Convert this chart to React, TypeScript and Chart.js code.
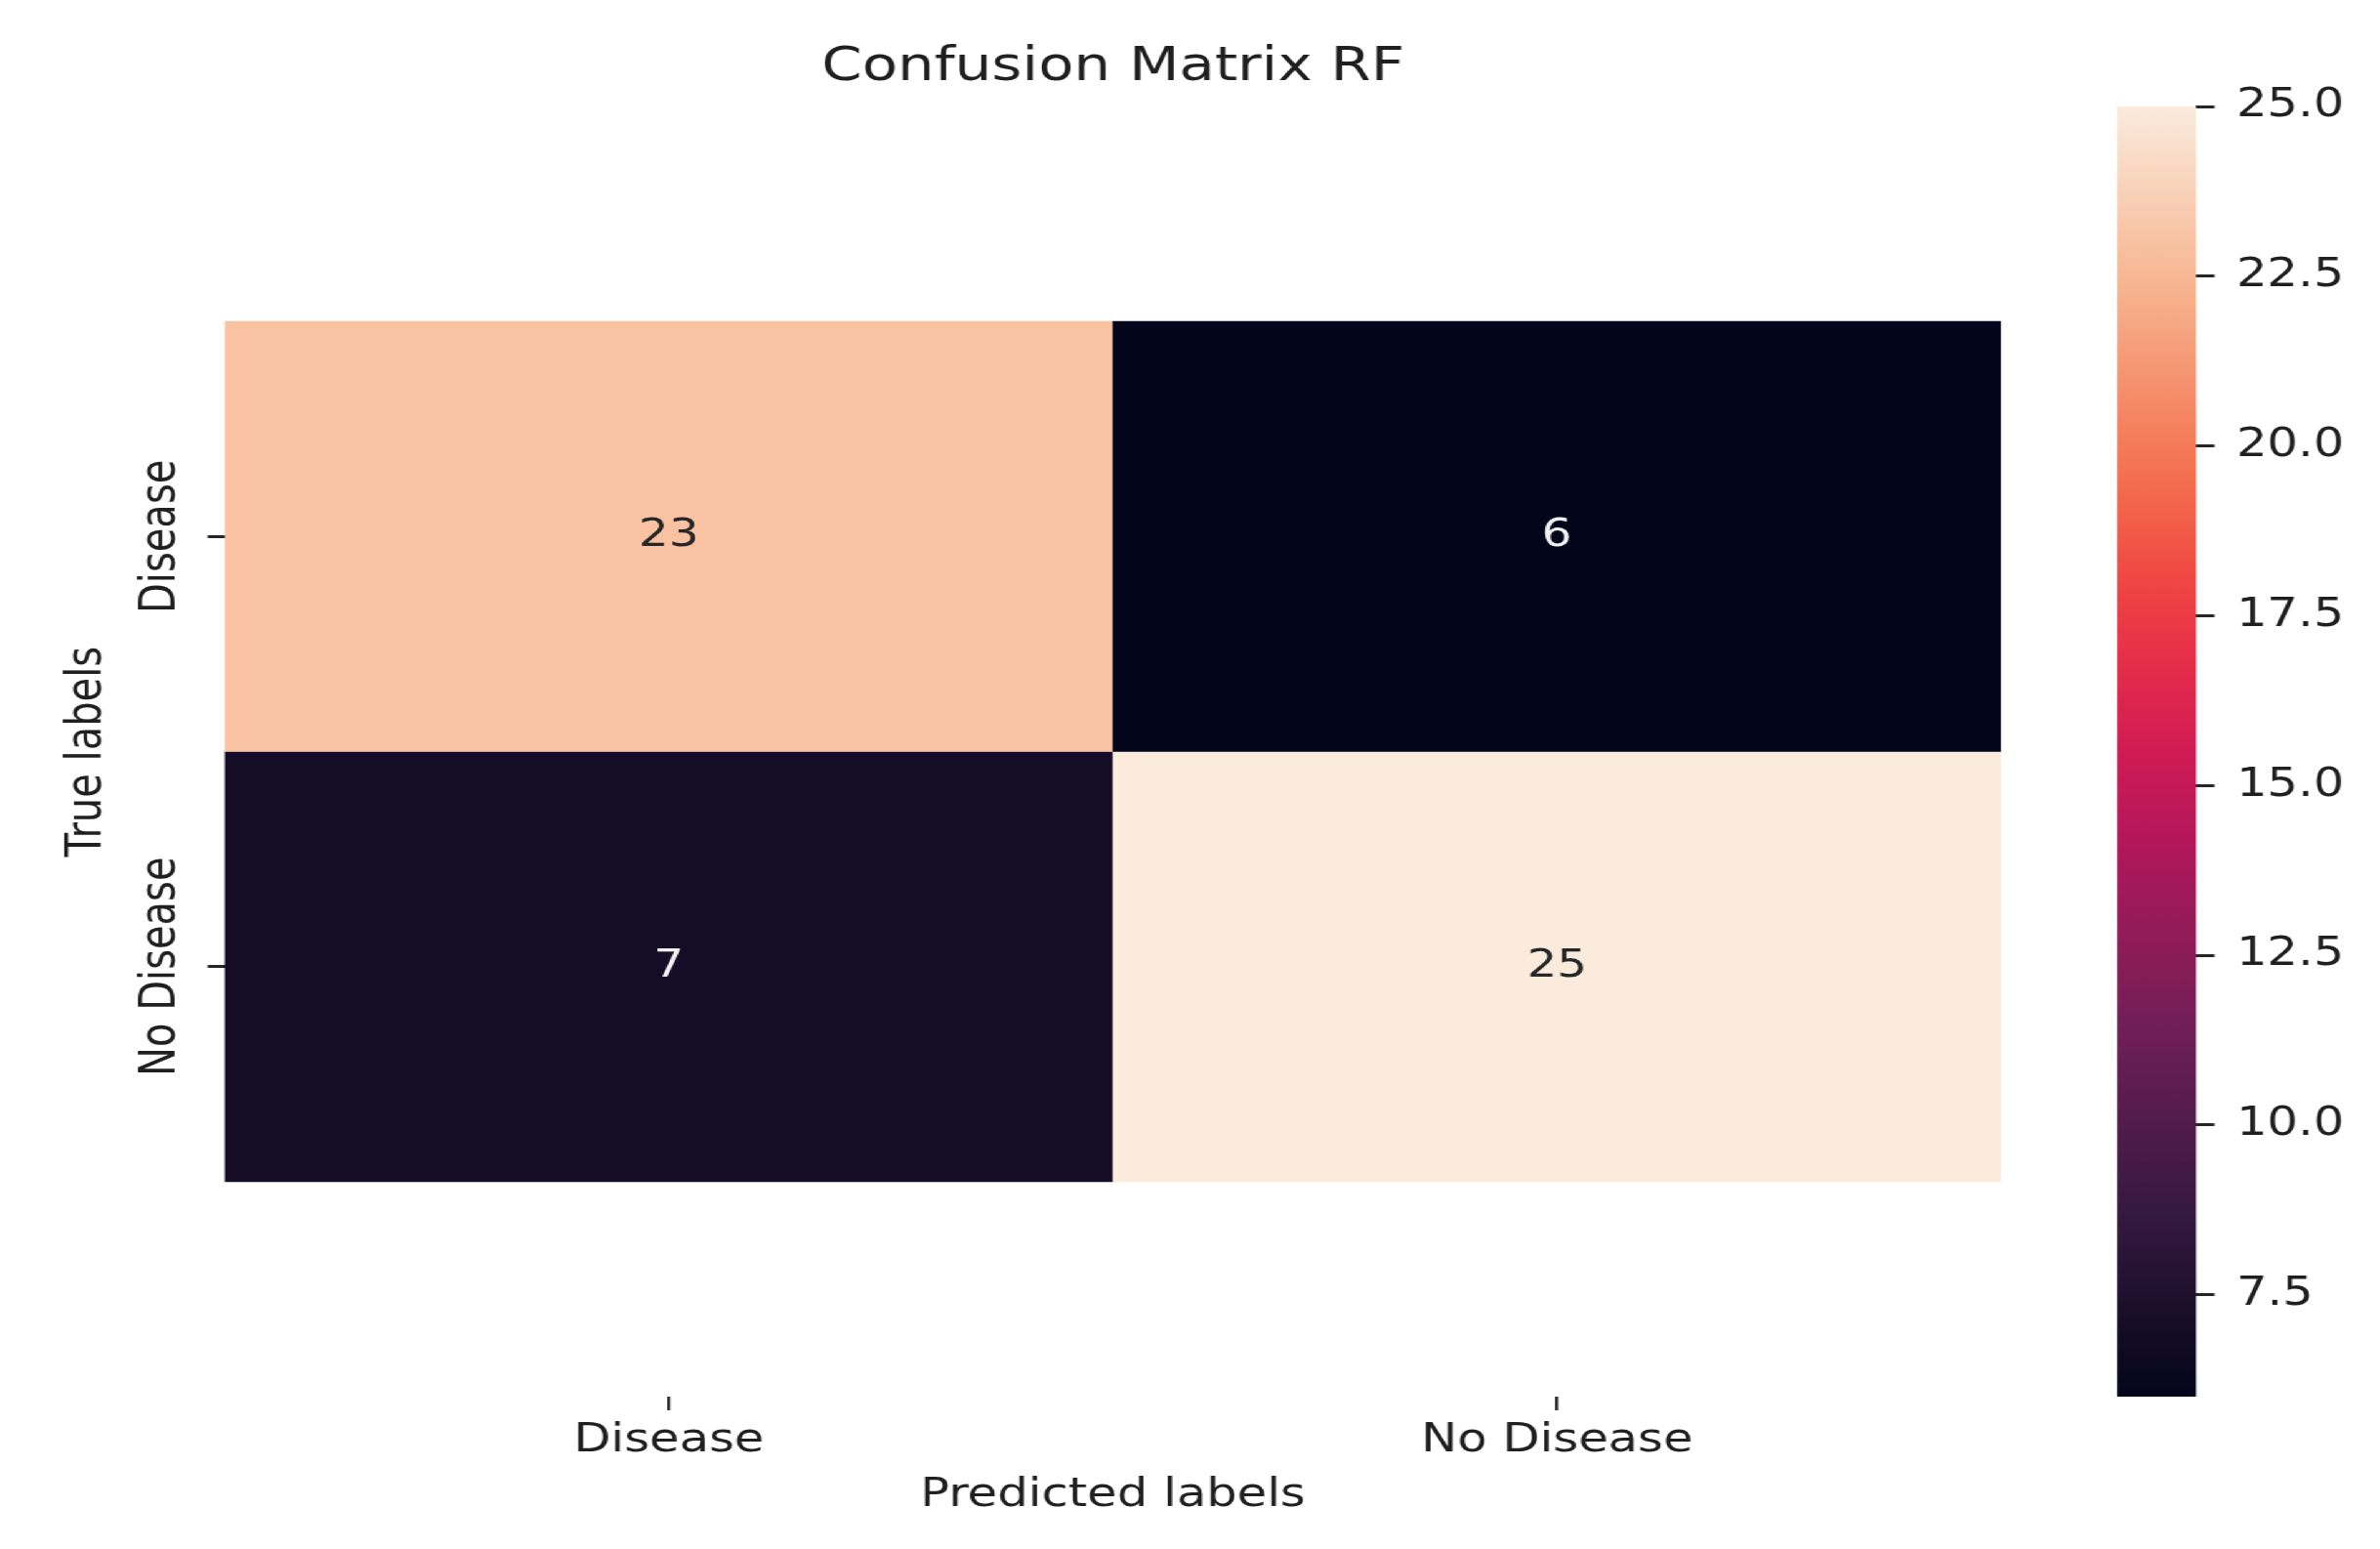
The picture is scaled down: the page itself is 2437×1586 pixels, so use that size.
import React, { useEffect, useRef } from 'react';
import { Chart, registerables } from 'chart.js';

Chart.register(...registerables);

// ---------------- data ----------------
const predictedLabels = ['Disease', 'No Disease'];
const trueLabels = ['Disease', 'No Disease'];
const rowDisease = [23, 6];
const rowNoDisease = [7, 25];
const matrixRows = [rowDisease, rowNoDisease];
const colorMin = 6;
const colorMax = 25;
const colorbarTicks = [7.5, 10, 12.5, 15, 17.5, 20, 22.5, 25];
const titleText = 'Confusion Matrix RF';
const xTitleText = 'Predicted labels';
const yTitleText = 'True labels';

// seaborn "rocket" colormap stops
const rocketStops: [number, string][] = [
  [0, '#03051A'],
  [0.143, '#35193E'],
  [0.286, '#701F57'],
  [0.429, '#B2175A'],
  [0.5, '#D01B55'],
  [0.571, '#E62E48'],
  [0.64, '#F04A43'],
  [0.714, '#F4704F'],
  [0.857, '#F7B38E'],
  [1, '#FAEBDD'],
];

// ---------------- layout ----------------
const FULL_W = 2437;
const FULL_H = 1586;
const W = 1965; // logical canvas width (the picture is stretched horizontally)
const S = FULL_W / W;
const PLOT_LEFT = 185.5;
const PLOT_RIGHT = 1652.2;
const PLOT_TOP = 109;
const PLOT_BOTTOM = 1430;
const CB_LEFT = 1748.1;
const CB_RIGHT = 1813.4;
const CB_AXIS_W = 145;
const FONT = '"DejaVu Sans", sans-serif';
const TEXT = '#1f1f1f';
const TICK = '#262626';
const TICK_LEN = 14;
const FS = 40;

function hexToRgb(h: string) {
  const n = parseInt(h.slice(1), 16);
  return [(n >> 16) & 255, (n >> 8) & 255, n & 255];
}

function colormap(v: number): string {
  const t = Math.max(0, Math.min(1, (v - colorMin) / (colorMax - colorMin)));
  for (let i = 1; i < rocketStops.length; i++) {
    const [p1, c1] = rocketStops[i];
    const [p0, c0] = rocketStops[i - 1];
    if (t <= p1) {
      const f = (t - p0) / (p1 - p0);
      const a = hexToRgb(c0);
      const b = hexToRgb(c1);
      const c = a.map((x, k) => Math.round(x + (b[k] - x) * f));
      return `rgb(${c[0]},${c[1]},${c[2]})`;
    }
  }
  return rocketStops[rocketStops.length - 1][1];
}

function textColorFor(v: number) {
  const t = (v - colorMin) / (colorMax - colorMin);
  return t > 0.5 ? '#262626' : '#f2f2f2';
}

const annotatePlugin = {
  id: 'cellAnnotations',
  afterDatasetsDraw(chart: any) {
    const ctx = chart.ctx;
    ctx.save();
    ctx.font = `39px ${FONT}`;
    ctx.textAlign = 'center';
    ctx.textBaseline = 'middle';
    chart.data.datasets.forEach((_ds: any, di: number) => {
      const meta = chart.getDatasetMeta(di);
      meta.data.forEach((el: any, i: number) => {
        const v = matrixRows[di][i];
        const p = el.getProps(['x', 'y', 'base'], true);
        ctx.fillStyle = textColorFor(v);
        ctx.fillText(String(v), p.x, (p.y + p.base) / 2);
      });
    });
    ctx.restore();
  },
};

export default function App() {
  const heatRef = useRef<HTMLCanvasElement | null>(null);
  const cbRef = useRef<HTMLCanvasElement | null>(null);

  useEffect(() => {
    if (!heatRef.current || !cbRef.current) return;

    const mctx = document.createElement('canvas').getContext('2d')!;
    mctx.font = `${FS}px ${FONT}`;
    const widest = Math.max(...trueLabels.map((l) => mctx.measureText(l).width));
    const yLabelCenter = 134;
    const yTickPad = PLOT_LEFT - TICK_LEN - yLabelCenter - widest / 2;

    const tickFont = { family: FONT, size: FS, weight: 'normal' as const };

    const heat = new Chart(heatRef.current, {
      type: 'bar',
      data: {
        labels: predictedLabels,
        datasets: matrixRows.map((row, r) => ({
          label: trueLabels[r],
          data: row.map(() => [r, r + 1]),
          backgroundColor: row.map((v) => colormap(v)),
          borderWidth: 0,
          barPercentage: 1,
          categoryPercentage: 1,
        })) as any,
      },
      options: {
        responsive: false,
        animation: false,
        layout: { padding: { left: 0, right: W - PLOT_RIGHT, top: 0, bottom: 0 } },
        plugins: {
          legend: { display: false },
          tooltip: { enabled: false },
          title: {
            display: true,
            text: titleText,
            fullSize: false,
            color: TEXT,
            font: { family: FONT, size: 48, weight: 'normal' },
            padding: { top: 40.6, bottom: 10.8 },
          },
        },
        scales: {
          x: {
            type: 'category',
            stacked: true,
            offset: true,
            grid: {
              display: true,
              drawOnChartArea: false,
              drawTicks: true,
              tickLength: TICK_LEN,
              offset: false,
              color: TICK,
              lineWidth: 2.4,
            },
            border: { display: false },
            ticks: { color: TEXT, font: tickFont, padding: 8, maxRotation: 0, minRotation: 0, autoSkip: false },
            title: {
              display: true,
              text: xTitleText,
              color: TEXT,
              font: tickFont,
              padding: { top: 0, bottom: 30 },
            },
            afterFit: (s: any) => {
              s.height = FULL_H - PLOT_BOTTOM;
            },
          },
          y: {
            type: 'linear',
            min: -0.5,
            max: 2.5,
            reverse: true,
            stacked: false,
            afterBuildTicks: (s: any) => {
              s.ticks = trueLabels.map((_l, i) => ({ value: i + 0.5 }));
            },
            ticks: {
              callback: (_v: any, i: number) => trueLabels[i],
              minRotation: 90,
              maxRotation: 90,
              crossAlign: 'center',
              padding: yTickPad,
              color: TEXT,
              font: tickFont,
              autoSkip: false,
            },
            grid: {
              display: true,
              drawOnChartArea: false,
              drawTicks: true,
              tickLength: TICK_LEN,
              color: TICK,
              lineWidth: 3,
            },
            border: { display: false },
            title: {
              display: true,
              text: yTitleText,
              color: TEXT,
              font: tickFont,
              padding: { top: 48.5, bottom: 0 },
            },
            afterFit: (s: any) => {
              s.width = PLOT_LEFT;
            },
          },
        },
      } as any,
      plugins: [annotatePlugin],
    });

    const cb = new Chart(cbRef.current, {
      type: 'bar',
      data: {
        labels: [''],
        datasets: [
          {
            data: [[colorMin, colorMax]] as any,
            backgroundColor: (c: any) => {
              const chart = c.chart;
              const ys = chart.scales && chart.scales.y;
              if (!chart.chartArea || !ys) return '#000';
              const g = chart.ctx.createLinearGradient(
                0,
                ys.getPixelForValue(colorMin),
                0,
                ys.getPixelForValue(colorMax)
              );
              rocketStops.forEach(([p, col]) => g.addColorStop(p, col));
              return g;
            },
            borderWidth: 0,
            barPercentage: 1,
            categoryPercentage: 1,
          },
        ],
      },
      options: {
        responsive: false,
        animation: false,
        layout: {
          padding: {
            left: CB_LEFT,
            right: W - CB_RIGHT - CB_AXIS_W,
            top: PLOT_TOP,
            bottom: FULL_H - PLOT_BOTTOM,
          },
        },
        plugins: { legend: { display: false }, tooltip: { enabled: false }, title: { display: false } },
        scales: {
          x: { display: false, offset: true },
          y: {
            position: 'right',
            min: colorMin,
            max: colorMax,
            afterBuildTicks: (s: any) => {
              s.ticks = colorbarTicks.map((v) => ({ value: v }));
            },
            ticks: {
              callback: (v: any) => Number(v).toFixed(1),
              color: TEXT,
              font: tickFont,
              padding: 18,
              autoSkip: false,
            },
            grid: {
              display: true,
              drawOnChartArea: false,
              drawTicks: true,
              tickLength: 15,
              color: TICK,
              lineWidth: 3,
            },
            border: { display: false },
            afterFit: (s: any) => {
              s.width = CB_AXIS_W;
            },
          },
        },
      } as any,
    });

    return () => {
      heat.destroy();
      cb.destroy();
    };
  }, []);

  return (
    <div
      style={{
        position: 'fixed',
        left: 0,
        top: 0,
        width: FULL_W,
        height: FULL_H,
        overflow: 'hidden',
        background: '#ffffff',
      }}
    >
      <div
        style={{
          position: 'absolute',
          left: 0,
          top: 0,
          width: W,
          height: FULL_H,
          transform: `scaleX(${S})`,
          transformOrigin: '0 0',
        }}
      >
        <canvas
          ref={heatRef}
          width={W}
          height={FULL_H}
          style={{ position: 'absolute', left: 0, top: 0, display: 'block' }}
        />
        <canvas
          ref={cbRef}
          width={W}
          height={FULL_H}
          style={{ position: 'absolute', left: 0, top: 0, display: 'block' }}
        />
      </div>
    </div>
  );
}
